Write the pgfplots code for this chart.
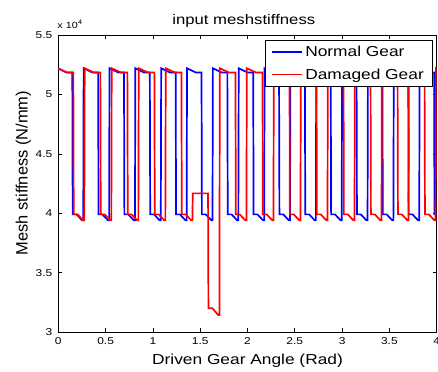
\documentclass[border=0pt]{standalone}
\usepackage{fontspec}
\setmainfont{Liberation Sans}[FakeStretch=1.2]
\newfontfamily\ylfont{Liberation Sans}
\usepackage{pgfplots}
\pgfplotsset{compat=1.18}
\begin{document}
\begin{tikzpicture}
\begin{axis}[
 scale only axis, width=378.4bp, height=297bp,
 xmin=0, xmax=4, ymin=30000, ymax=55000,
 xtick={0,0.5,1,1.5,2,2.5,3,3.5,4},
 xticklabels={0,0.5,1,1.5,2,2.5,3,3.5,4},
 ytick={30000,35000,40000,45000,50000,55000},
 yticklabels={3,3.5,4,4.5,5,5.5},
 scaled y ticks=false, scaled x ticks=false,
 /pgf/number format/assume math mode=true,
 tick align=inside, major tick length=4bp,
 tick style={black, line width=0.6bp},
 axis line style={black, line width=0.8bp},
 ticklabel style={font=\fontsize{10}{12}\selectfont},
 yticklabel style={xshift=-2.5bp},
 xticklabel style={yshift=-2.5bp},
 title={input meshstiffness},
 every axis title/.style={font=\fontsize{14}{16}\selectfont, at={(rel axis cs:0.4902,1.037)}, anchor=base},
 xlabel={Driven Gear Angle (Rad)},
 xlabel style={font=\fontsize{14.5}{17}\selectfont, at={(rel axis cs:0.5,-0.1111)}, anchor=base},
 ylabel={Mesh stiffness (N/mm)},
 ylabel style={font=\ylfont\fontsize{16.5}{19}\selectfont, at={(rel axis cs:-0.0925,0.535)}, anchor=center},
 legend image code/.code={\draw[#1] (0bp,0bp) -- (30bp,0bp);},
 legend style={at={(0.9876,0.9832)}, anchor=north east, draw=black,
   font=\fontsize{14.5}{17}\selectfont, inner xsep=6bp, inner ysep=3.5bp, row sep=7bp,
   /tikz/every even column/.append style={column sep=4bp}},
 legend cell align=left,
]
\addlegendimage{blue, line width=1.7bp}
\addlegendentry{Normal Gear}
\addlegendimage{red, line width=1.7bp}
\addlegendentry{Damaged Gear}
\addplot[blue, line width=1.7bp, forget plot] table {
x y
0 52180
0.0858 51850
0.148 51850
0.152 39900
0.193 39900
0.252 39400
0.264 39400
0.268 52200
0.359 51850
0.4212 51850
0.4252 39900
0.4662 39900
0.5252 39400
0.5372 39400
0.5412 52200
0.6322 51850
0.6944 51850
0.6984 39900
0.7394 39900
0.7984 39400
0.8104 39400
0.8144 52200
0.9054 51850
0.9675 51850
0.9715 39900
1.0125 39900
1.0715 39400
1.0835 39400
1.0875 52200
1.1785 51850
1.2407 51850
1.2447 39900
1.2857 39900
1.3447 39400
1.3567 39400
1.3607 52200
1.4517 51850
1.5139 51850
1.5179 39900
1.5589 39900
1.6179 39400
1.6299 39400
1.6339 52200
1.7249 51850
1.7871 51850
1.7911 39900
1.8321 39900
1.8911 39400
1.9031 39400
1.9071 52200
1.9981 51850
2.0603 51850
2.0643 39900
2.1053 39900
2.1643 39400
2.1763 39400
2.1803 52200
2.2713 51850
2.3334 51850
2.3374 39900
2.3784 39900
2.4374 39400
2.4494 39400
2.4534 52200
2.5444 51850
2.6066 51850
2.6106 39900
2.6516 39900
2.7106 39400
2.7226 39400
2.7266 52200
2.8176 51850
2.8798 51850
2.8838 39900
2.9248 39900
2.9838 39400
2.9958 39400
2.9998 52200
3.0908 51850
3.1530 51850
3.1570 39900
3.1980 39900
3.2570 39400
3.2690 39400
3.2730 52200
3.3640 51850
3.4262 51850
3.4302 39900
3.4712 39900
3.5302 39400
3.5422 39400
3.5462 52200
3.6372 51850
3.6993 51850
3.7033 39900
3.7443 39900
3.8033 39400
3.8153 39400
3.8193 52200
3.9103 51850
3.9725 51850
3.9765 39900
4.0 39900
};
\addplot[red, line width=1.7bp, forget plot] table {
x y
0 52180
0.0894 51850
0.159 51850
0.163 39900
0.204 39900
0.263 39400
0.275 39400
0.279 52200
0.375 51850
0.4446 51850
0.4486 39900
0.4896 39900
0.5486 39400
0.5606 39400
0.5646 52200
0.6606 51850
0.7302 51850
0.7342 39900
0.7752 39900
0.8342 39400
0.8462 39400
0.8502 52200
0.9462 51850
1.0158 51850
1.0198 39900
1.0608 39900
1.1198 39400
1.1318 39400
1.1358 52200
1.2318 51850
1.3014 51850
1.3054 39900
1.3464 39900
1.4054 39400
1.4174 39400
1.4214 41670
1.5830 41670
1.5870 32000
1.6280 32000
1.6910 31430
1.7030 31430
1.7070 52200
1.8030 51850
1.8726 51850
1.8766 39900
1.9176 39900
1.9766 39400
1.9886 39400
1.9926 52200
2.0886 51850
2.1582 51850
2.1622 39900
2.2032 39900
2.2622 39400
2.2742 39400
2.2782 52200
2.3742 51850
2.4438 51850
2.4478 39900
2.4888 39900
2.5478 39400
2.5598 39400
2.5638 52200
2.6598 51850
2.7294 51850
2.7334 39900
2.7744 39900
2.8334 39400
2.8454 39400
2.8494 52200
2.9454 51850
3.0150 51850
3.0190 39900
3.0600 39900
3.1190 39400
3.1310 39400
3.1350 52200
3.2310 51850
3.3006 51850
3.3046 39900
3.3456 39900
3.4046 39400
3.4166 39400
3.4206 52200
3.5166 51850
3.5862 51850
3.5902 39900
3.6312 39900
3.6902 39400
3.7022 39400
3.7062 52200
3.8022 51850
3.8718 51850
3.8758 39900
3.9168 39900
3.9758 39400
3.9878 39400
3.9918 52200
4.0 52170
};
\end{axis}
\node[anchor=base west, font=\fontsize{9}{10}\selectfont, inner sep=0pt] at ([shift={(-1bp,6.7bp)}]current axis.north west) {x 10\raisebox{3.8bp}{\fontsize{6.5}{7}\selectfont 4}};
\pgfresetboundingbox
\useasboundingbox ([shift={(-58.3bp,-40bp)}]current axis.south west) rectangle ([shift={(1.3bp,35bp)}]current axis.north east);
\end{tikzpicture}
\end{document}
